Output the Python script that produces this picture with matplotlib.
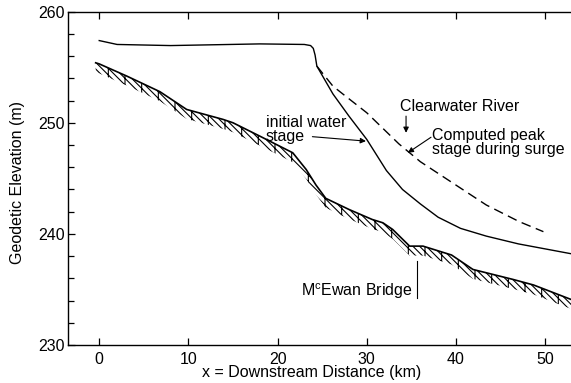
import numpy as np
import matplotlib
matplotlib.use("Agg")
import matplotlib.pyplot as plt

plt.rcParams["font.family"] = ["Liberation Sans", "DejaVu Sans"]
plt.rcParams["mathtext.fontset"] = "custom"
plt.rcParams["mathtext.rm"] = "Liberation Sans"
plt.rcParams["hatch.linewidth"] = 0.8

# initial water stage (solid)
x_init = [0, 2, 8, 18, 23, 23.7, 24.0, 24.2, 24.4, 26.2, 28.0, 30.0, 32.2, 34.0,
          36.0, 38.0, 40.5, 43.4, 47.0, 53.0]
y_init = [257.4, 257.05, 256.95, 257.1, 257.05, 256.95, 256.7, 256.1, 255.1, 252.6,
          250.6, 248.5, 245.7, 244.0, 242.7, 241.5, 240.5, 239.8, 239.1, 238.2]

# computed peak stage during surge (dashed)
x_peak = [24.4, 26.2, 27.3, 30.0, 33.6, 36.0, 39.6, 43.4, 47.1, 49.8]
y_peak = [255.1, 253.3, 252.6, 250.9, 248.1, 246.5, 244.6, 242.6, 241.1, 240.2]

# river bed (hatched)
x_bed = [-0.4, 0, 3.1, 6.8, 9.8, 13.9, 15.0, 18.0, 21.7, 23.2, 24.3, 25.4, 28.0,
         30.6, 31.8, 32.9, 34.8, 36.3, 39.5, 41.9, 46.4, 48.7, 52.9]
y_bed = [255.4, 255.3, 254.2, 252.8, 251.2, 250.3, 250.0, 248.8, 247.3, 245.8,
         244.4, 243.2, 242.2, 241.3, 241.0, 240.4, 238.9, 238.9, 238.1, 236.8,
         235.9, 235.4, 234.1]

bridge_x = 35.6

fig = plt.figure(figsize=(5.71, 3.83), dpi=100)
ax = fig.add_axes([0.1191, 0.0992, 0.881, 0.8703])

ax.plot(x_init, y_init, color="black", lw=1.0)
ax.plot(x_peak, y_peak, color="black", lw=1.0, dashes=(7, 4))

bed = np.array(y_bed)
ax.fill_between(x_bed, bed, bed - 0.85, facecolor="white", edgecolor="black",
                hatch="\\" * 5 + "|", linewidth=0)
ax.plot(x_bed, y_bed, color="black", lw=1.2)

# McEwan Bridge marker
ax.plot([bridge_x, bridge_x], [237.6, 234.2], color="black", lw=0.8)
ax.text(bridge_x - 0.5, 234.8, r"M$^{\mathrm{c}}$Ewan Bridge", ha="right", va="center",
        fontsize=11.5)

arrow = dict(arrowstyle="-|>", color="black", lw=0.8, mutation_scale=8,
             shrinkA=0, shrinkB=0)
ax.text(18.7, 249.4, "initial water\nstage", fontsize=11.5, ha="left", va="center",
        linespacing=0.95)
ax.annotate("", xy=(29.9, 248.35), xytext=(23.9, 248.75), arrowprops=arrow)
ax.text(33.7, 251.5, "Clearwater River", fontsize=11.5, ha="left", va="center")
ax.annotate("", xy=(34.4, 249.1), xytext=(34.4, 250.6), arrowprops=arrow)
ax.text(37.3, 248.25, "Computed peak\nstage during surge", fontsize=11.5, ha="left",
        va="center", linespacing=0.95)
ax.annotate("", xy=(34.6, 247.3), xytext=(37.2, 248.7), arrowprops=arrow)

ax.set_xlim(-3.5, 52.9)
ax.set_ylim(230, 260)
ax.set_xticks([0, 10, 20, 30, 40, 50])
ax.set_yticks([230, 240, 250, 260])
ax.set_yticks(np.arange(230, 261, 2), minor=True)
ax.tick_params(axis="both", which="both", direction="in", labelsize=11.5, width=0.9)
ax.tick_params(axis="x", which="major", top=True, length=5, pad=5)
ax.tick_params(axis="y", which="major", length=5, pad=2)
ax.tick_params(axis="y", which="minor", length=4)
ax.spines["right"].set_visible(False)
for s in ["left", "top", "bottom"]:
    ax.spines[s].set_linewidth(1.0)

fig.text(312 / 571, 1 - 373 / 383, "x = Downstream Distance (km)", ha="center",
         va="center", fontsize=11.5)
fig.text(18 / 571, 1 - 182 / 383, "Geodetic Elevation (m)", ha="center", va="center",
         rotation=90, fontsize=11.5)

fig.savefig("out.png", dpi=100)
